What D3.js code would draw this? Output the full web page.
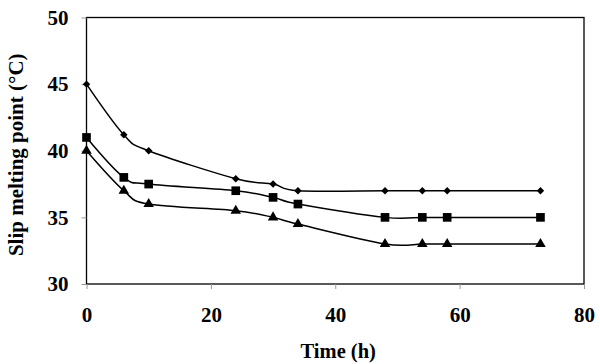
<!DOCTYPE html>
<html>
<head>
<meta charset="utf-8">
<script src="https://cdn.jsdelivr.net/npm/d3@7"></script>
<style>
  body { margin: 0; background: #fff; }
  .tick text { font-family: "Liberation Serif", "Times New Roman", serif; font-weight: bold; font-size: 21px; fill: #000; }
  .titulo { font-family: "Liberation Serif", "Times New Roman", serif; font-weight: bold; fill: #000; }
</style>
</head>
<body>
<div id="chart-area"></div>
<script>
// datos
var hours = [0, 6, 10, 24, 30, 34, 48, 54, 58, 73];
var diamondValues = [45, 41.2, 40, 37.9, 37.5, 37.0, 37, 37, 37, 37];
var squareValues = [41, 38, 37.5, 37, 36.5, 36, 35, 35, 35, 35];
var triangleValues = [40, 37, 36, 35.5, 35, 34.5, 33, 33, 33, 33];
var xTicks = [0, 20, 40, 60, 80];
var yTicks = [30, 35, 40, 45, 50];

var margin = { top: 17.5, right: 16, bottom: 80, left: 86.5 },
    width = 600 - margin.left - margin.right,
    height = 364 - margin.top - margin.bottom;

var svg = d3.select("#chart-area")
    .append("svg")
    .attr("width", 600)
    .attr("height", 364)
    .append("g")
    .attr("transform", "translate(" + margin.left + "," + margin.top + ")");

var xScale = d3.scaleLinear().domain([0, 80]).range([0, width]);
var yScale = d3.scaleLinear().domain([30, 50]).range([height, 0]);

// marco del area de trazado
svg.append("rect")
    .attr("width", width)
    .attr("height", height)
    .attr("fill", "none")
    .attr("stroke", "#000")
    .attr("stroke-width", 1.3);

// eje X
var xAxis = svg.append("g")
    .attr("transform", "translate(0," + height + ")")
    .call(d3.axisBottom(xScale).tickValues(xTicks).tickSize(5).tickPadding(18));
xAxis.select(".domain").remove();
xAxis.selectAll(".tick line").attr("stroke", "#999");

// eje Y
var yAxis = svg.append("g")
    .call(d3.axisLeft(yScale).tickValues(yTicks).tickSize(5).tickPadding(13));
yAxis.select(".domain").remove();
yAxis.selectAll(".tick line").attr("stroke", "#999");

svg.append("text")
    .attr("class", "titulo")
    .attr("x", width / 2 + 3)
    .attr("y", height + 74)
    .attr("text-anchor", "middle")
    .style("font-size", "20.5px")
    .text("Time (h)");

svg.append("text")
    .attr("class", "titulo")
    .attr("transform", "rotate(-90)")
    .attr("x", -height / 2 - 4)
    .attr("y", -margin.left + 23)
    .attr("text-anchor", "middle")
    .style("font-size", "21px")
    .text("Slip melting point (°C)");

// rombo = cuadrado girado 45 grados
var series = [
    { values: diamondValues, symbol: d3.symbolSquare, size: 28, rotate: 45 },
    { values: squareValues, symbol: d3.symbolSquare, size: 75, rotate: 0 },
    { values: triangleValues, symbol: d3.symbolTriangle, size: 48, rotate: 0 }
];

var line = d3.line()
    .x(function(d) { return xScale(d[0]); })
    .y(function(d) { return yScale(d[1]); })
    .curve(d3.curveCardinal.tension(0));

series.forEach(function(s) {
    var pts = hours.map(function(h, i) { return [h, s.values[i]]; });

    svg.append("path")
        .datum(pts)
        .attr("fill", "none")
        .attr("stroke", "#000")
        .attr("stroke-width", 1.5)
        .attr("d", line);

    svg.selectAll(null)
        .data(pts)
        .enter().append("path")
        .attr("transform", function(d) {
            return "translate(" + xScale(d[0]) + "," + yScale(d[1]) + ") rotate(" + s.rotate + ")";
        })
        .attr("d", d3.symbol().type(s.symbol).size(s.size))
        .attr("fill", "#000");
});
</script>
</body>
</html>
